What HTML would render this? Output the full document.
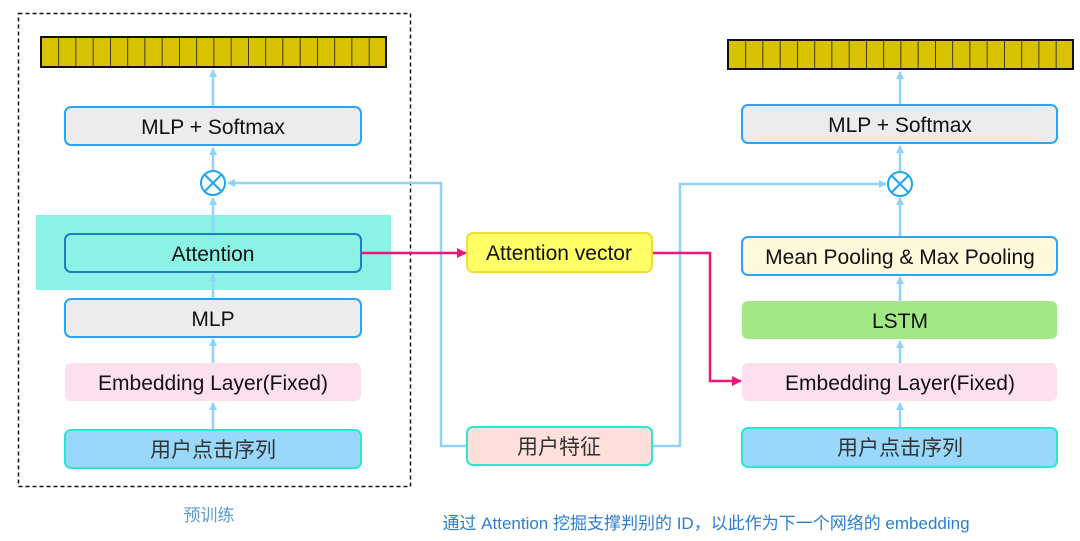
<!DOCTYPE html>
<html><head><meta charset="utf-8"><style>
html,body{margin:0;padding:0;background:#fff;}
svg{display:block;font-family:"Liberation Sans","Noto Sans CJK SC",sans-serif;}
</style></head><body>
<svg width="1080" height="541" viewBox="0 0 1080 541" xmlns="http://www.w3.org/2000/svg">
<defs>
<marker id="ab" markerWidth="8" markerHeight="8" refX="7" refY="4" orient="auto" markerUnits="userSpaceOnUse"><path d="M0,0 L8,4 L0,8 z" fill="#8fd3fb"/></marker>
<marker id="ap" markerWidth="10" markerHeight="10" refX="9" refY="5" orient="auto" markerUnits="userSpaceOnUse"><path d="M0,0 L10,5 L0,10 z" fill="#e8197a"/></marker>
<pattern id="cells" x="41" y="0" width="17.25" height="100" patternUnits="userSpaceOnUse"><rect x="0" y="0" width="17.25" height="100" fill="#d9c200"/><line x1="0" y1="0" x2="0" y2="100" stroke="#111" stroke-width="1.5"/></pattern>
<pattern id="cells2" x="728" y="0" width="17.25" height="100" patternUnits="userSpaceOnUse"><rect x="0" y="0" width="17.25" height="100" fill="#d9c200"/><line x1="0" y1="0" x2="0" y2="100" stroke="#111" stroke-width="1.5"/></pattern>
</defs>
<!-- dashed box -->
<rect x="18.5" y="13.5" width="392" height="473" fill="none" stroke="#111" stroke-width="1.5" stroke-dasharray="4,3"/>
<!-- teal highlight -->
<rect x="36" y="215" width="355" height="75" fill="#8cf2e6"/>
<!-- bars -->
<rect x="41" y="37" width="345" height="30" fill="url(#cells)" stroke="#111" stroke-width="2"/>
<rect x="728" y="40" width="345" height="29" fill="url(#cells2)" stroke="#111" stroke-width="2"/>
<!-- connectors left -->
<g stroke="#8fd3fb" stroke-width="2.5" fill="none">
<line x1="213" y1="107" x2="213" y2="70" marker-end="url(#ab)"/>
<line x1="213" y1="170" x2="213" y2="148" marker-end="url(#ab)"/>
<line x1="213" y1="234" x2="213" y2="198" marker-end="url(#ab)"/>
<line x1="213" y1="299" x2="213" y2="274" marker-end="url(#ab)"/>
<line x1="213" y1="363" x2="213" y2="339" marker-end="url(#ab)"/>
<line x1="213" y1="430" x2="213" y2="403" marker-end="url(#ab)"/>
<line x1="900" y1="105" x2="900" y2="72" marker-end="url(#ab)"/>
<line x1="900" y1="171" x2="900" y2="146" marker-end="url(#ab)"/>
<line x1="900" y1="237" x2="900" y2="198" marker-end="url(#ab)"/>
<line x1="900" y1="301" x2="900" y2="277" marker-end="url(#ab)"/>
<line x1="900" y1="363" x2="900" y2="341" marker-end="url(#ab)"/>
<line x1="900" y1="428" x2="900" y2="403" marker-end="url(#ab)"/>
<polyline points="467,446 441,446 441,183 228,183" marker-end="url(#ab)"/>
<polyline points="652,446 680,446 680,184 886,184" marker-end="url(#ab)"/>
</g>
<!-- pink -->
<g stroke="#e8197a" stroke-width="2.5" fill="none">
<line x1="361" y1="253" x2="466" y2="253" marker-end="url(#ap)"/>
<polyline points="652,253 710,253 710,381 741,381" marker-end="url(#ap)"/>
</g>
<!-- circles -->
<g stroke="#1fa5f0" stroke-width="2" fill="#fff">
<circle cx="213" cy="183" r="12"/>
<line x1="204.5" y1="174.5" x2="221.5" y2="191.5"/><line x1="221.5" y1="174.5" x2="204.5" y2="191.5"/>
<circle cx="900" cy="184" r="12"/>
<line x1="891.5" y1="175.5" x2="908.5" y2="192.5"/><line x1="908.5" y1="175.5" x2="891.5" y2="192.5"/>
</g>
<!-- left boxes -->
<rect x="65" y="107" width="296" height="38" rx="6" fill="#ececec" stroke="#2aa4f4" stroke-width="2"/>
<rect x="65" y="234" width="296" height="38" rx="6" fill="#8cf2e6" stroke="#1a7fc4" stroke-width="2"/>
<rect x="65" y="299" width="296" height="38" rx="6" fill="#ececec" stroke="#2aa4f4" stroke-width="2"/>
<rect x="65" y="363" width="296" height="38" rx="6" fill="#fde0ee"/>
<rect x="65" y="430" width="296" height="38" rx="6" fill="#99d8fb" stroke="#2de6d2" stroke-width="2"/>
<!-- middle -->
<rect x="467" y="233" width="185" height="39" rx="6" fill="#ffff66" stroke="#f3dc3a" stroke-width="2"/>
<rect x="467" y="427" width="185" height="38" rx="6" fill="#fde0dc" stroke="#2de6d2" stroke-width="2"/>
<!-- right -->
<rect x="742" y="105" width="315" height="38" rx="6" fill="#ececec" stroke="#2aa4f4" stroke-width="2"/>
<rect x="742" y="237" width="315" height="38" rx="6" fill="#fffadc" stroke="#2aa4f4" stroke-width="2"/>
<rect x="742" y="301" width="315" height="38" rx="6" fill="#a2e986"/>
<rect x="742" y="363" width="315" height="38" rx="6" fill="#fde0ee"/>
<rect x="742" y="428" width="315" height="39" rx="6" fill="#99d8fb" stroke="#2de6d2" stroke-width="2"/>
<!-- text -->
<g font-size="21" fill="#111" text-anchor="middle">
<text x="213" y="134">MLP + Softmax</text>
<text x="213" y="261">Attention</text>
<text x="213" y="326">MLP</text>
<text x="213" y="390">Embedding Layer(Fixed)</text>
<text x="213" y="457" fill="#333">用户点击序列</text>
<text x="559" y="260">Attention vector</text>
<text x="559" y="454" fill="#333">用户特征</text>
<text x="900" y="132">MLP + Softmax</text>
<text x="900" y="264">Mean Pooling &amp; Max Pooling</text>
<text x="900" y="328">LSTM</text>
<text x="900" y="390">Embedding Layer(Fixed)</text>
<text x="900" y="455" fill="#333">用户点击序列</text>
</g>
<text x="209" y="521" font-size="17" fill="#5b9bd0" text-anchor="middle">预训练</text>
<text x="706" y="529" font-size="17" fill="#2a7fd0" text-anchor="middle">通过 Attention 挖掘支撑判别的 ID，以此作为下一个网络的 embedding</text>
</svg>
</body></html>
